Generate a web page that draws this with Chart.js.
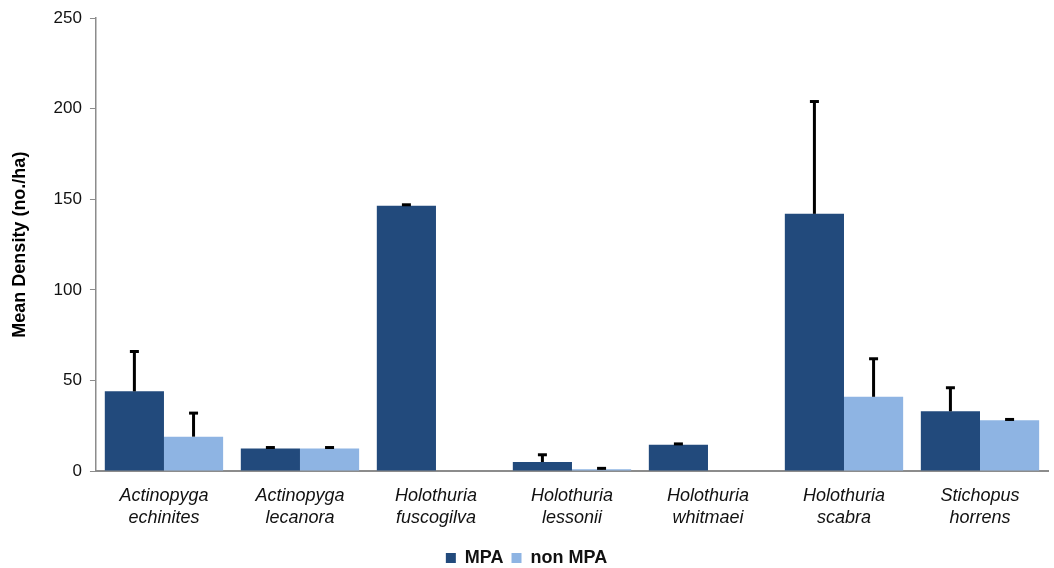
<!DOCTYPE html>
<html>
<head>
<meta charset="utf-8">
<script src="https://cdn.jsdelivr.net/npm/chart.js@4/dist/chart.umd.min.js"></script>
<style>
  html, body { margin: 0; padding: 0; background: #ffffff; }
  #wrap { width: 1054px; height: 568px; position: relative; }
</style>
</head>
<body>
<div id="wrap"><canvas id="chart"></canvas></div>
<script>
// Species (two-line labels)
const species = [
  ["Actinopyga", "echinites"],
  ["Actinopyga", "lecanora"],
  ["Holothuria", "fuscogilva"],
  ["Holothuria", "lessonii"],
  ["Holothuria", "whitmaei"],
  ["Holothuria", "scabra"],
  ["Stichopus", "horrens"]
];

// Mean density (no./ha)
const mpaMean    = [44, 12.5, 146.5, 5, 14.5, 142, 33];
const nonMpaMean = [19, 12.5, 0, 1, 0, 41, 28];

// Upper end of error bars (mean + SE)
const mpaUpper    = [66, 13, 147, 9, 15, 204, 46];
const nonMpaUpper = [32, 13, null, 1.5, null, 62, 28.5];

const yTicks = [0, 50, 100, 150, 200, 250];

const upperByDataset = [mpaUpper, nonMpaUpper];

const FONT = 'Liberation Sans, Arial, Helvetica, sans-serif';

// Draws upper-only error whiskers with a small cap
const errorBars = {
  id: 'errorBars',
  afterDatasetsDraw(chart) {
    const ctx = chart.ctx;
    const y = chart.scales.y;
    ctx.save();
    ctx.strokeStyle = '#000000';
    ctx.lineWidth = 3;
    chart.data.datasets.forEach((ds, di) => {
      const meta = chart.getDatasetMeta(di);
      meta.data.forEach((bar, i) => {
        const up = upperByDataset[di][i];
        if (up == null) return;
        const yTop = y.getPixelForValue(up);
        const yBase = y.getPixelForValue(ds.data[i]);
        ctx.beginPath();
        ctx.moveTo(bar.x, yBase);
        ctx.lineTo(bar.x, yTop);
        ctx.stroke();
        ctx.beginPath();
        ctx.moveTo(bar.x - 4.5, yTop);
        ctx.lineTo(bar.x + 4.5, yTop);
        ctx.stroke();
      });
    });
    ctx.restore();
  }
};

new Chart(document.getElementById('chart'), {
  type: 'bar',
  data: {
    labels: species,
    datasets: [
      {
        label: 'MPA',
        data: mpaMean,
        backgroundColor: '#224a7c',
        barPercentage: 1.0,
        categoryPercentage: 0.87
      },
      {
        label: 'non MPA',
        data: nonMpaMean,
        backgroundColor: '#8eb4e3',
        barPercentage: 1.0,
        categoryPercentage: 0.87
      }
    ]
  },
  options: {
    responsive: true,
    maintainAspectRatio: false,
    animation: false,
    layout: { padding: { top: 12, right: 6, left: 5, bottom: -9 } },
    plugins: {
      legend: {
        position: 'bottom',
        labels: {
          boxWidth: 10,
          boxHeight: 10,
          padding: 8,
          color: '#111111',
          font: { family: FONT, size: 18, weight: 'bold' }
        }
      },
      tooltip: { enabled: false }
    },
    scales: {
      x: {
        afterFit(scale) { scale.height += 6; },
        grid: { display: false },
        border: { display: true, color: '#8c8c8c', width: 2 },
        ticks: {
          color: '#111111',
          padding: 6,
          maxRotation: 0,
          font: { family: FONT, size: 18, style: 'italic', lineHeight: 1.22 }
        }
      },
      y: {
        min: 0,
        max: 250,
        afterBuildTicks(axis) { axis.ticks = yTicks.map(v => ({ value: v })); },
        grid: { drawOnChartArea: false, drawTicks: true, tickLength: 6, color: '#8c8c8c', lineWidth: 1 },
        border: { display: true, color: '#8c8c8c', width: 1.5 },
        ticks: {
          color: '#111111',
          padding: 8,
          font: { family: FONT, size: 17 }
        },
        title: {
          display: true,
          text: 'Mean Density (no./ha)',
          color: '#000000',
          padding: { top: 4, bottom: 15 },
          font: { family: FONT, size: 18, weight: 'bold' }
        }
      }
    }
  },
  plugins: [errorBars]
});
</script>
</body>
</html>
